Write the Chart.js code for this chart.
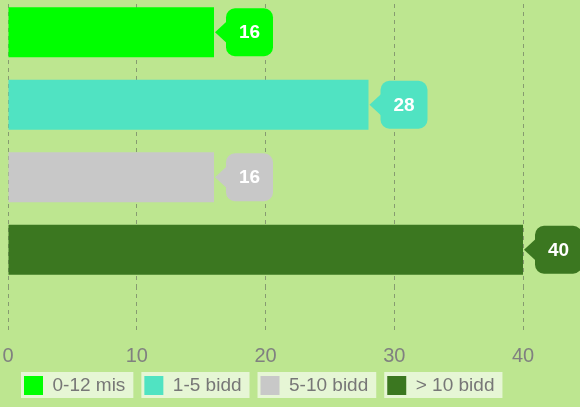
<!DOCTYPE html>
<html lang="en">
<head>
    <meta charset="UTF-8">
    <title>Bars by age</title>
    <script src="https://cdn.jsdelivr.net/npm/chart.js"></script>
    <style>
        html, body {
            margin: 0;
            padding: 0;
            width: 580px;
            height: 407px;
            overflow: hidden;
            background-color: #bde690;
        }
        .chart-box {
            position: absolute;
            left: 0;
            top: -4px;
            width: 580px;
            height: 418px;
        }
    </style>
</head>
<body>
    <div class="chart-box">
        <canvas id="barChart"></canvas>
    </div>
    <script>
        const categories = ['0-12 mis', '1-5 bidd', '5-10 bidd', '> 10 bidd'];
        const values = [16, 28, 16, 40];
        const barColors = ['#00ff00', '#50e3c2', '#c8c8c8', '#3b7720'];
        const xMin = 0;
        const xMax = 40;
        const xStep = 10;

        const fontFamily = '"Liberation Sans", Arial, Helvetica, sans-serif';

        // put the legend row where the original has it
        const legendPlacement = {
            id: 'legendPlacement',
            afterLayout(chart) {
                const legend = chart.legend;
                const dx = 5 - legend.left;
                const dy = 361 - legend.top;
                legend.left += dx;
                legend.right += dx;
                legend.top += dy;
                legend.bottom += dy;
            }
        };

        // light boxes behind each legend entry
        const legendBackground = {
            id: 'legendBackground',
            beforeDraw(chart) {
                const boxes = chart.legend && chart.legend.legendHitBoxes;
                if (!boxes) return;
                const ctx = chart.ctx;
                ctx.save();
                ctx.fillStyle = 'rgba(255, 255, 255, 0.62)';
                boxes.forEach(hb => {
                    ctx.fillRect(hb.left - 3, hb.top - 4, hb.width + 11, 26);
                });
                ctx.restore();
            }
        };

        // value callouts to the right of each bar
        const valueCallouts = {
            id: 'valueCallouts',
            afterDatasetsDraw(chart) {
                const ctx = chart.ctx;
                const meta = chart.getDatasetMeta(0);
                ctx.save();
                meta.data.forEach((bar, i) => {
                    const x = bar.x;
                    const y = bar.y;
                    const left = x + 12;
                    const top = y - 24;
                    ctx.fillStyle = barColors[i];
                    ctx.beginPath();
                    ctx.roundRect(left, top, 47, 48, 9);
                    ctx.fill();
                    ctx.beginPath();
                    ctx.moveTo(x + 1, y);
                    ctx.lineTo(left + 2, y - 12);
                    ctx.lineTo(left + 2, y + 12);
                    ctx.closePath();
                    ctx.fill();
                    ctx.fillStyle = '#ffffff';
                    ctx.font = 'bold 19px ' + fontFamily;
                    ctx.textAlign = 'center';
                    ctx.textBaseline = 'middle';
                    ctx.fillText(String(values[i]), left + 23.5, y + 1);
                });
                ctx.restore();
            }
        };

        const ctx = document.getElementById('barChart').getContext('2d');
        const barChart = new Chart(ctx, {
            type: 'bar',
            data: {
                labels: categories,
                datasets: [{
                    label: 'Antal',
                    data: values,
                    backgroundColor: barColors,
                    borderWidth: 0,
                    barPercentage: 0.69,
                    categoryPercentage: 1
                }]
            },
            options: {
                indexAxis: 'y',
                responsive: true,
                maintainAspectRatio: false,
                animation: false,
                layout: {
                    padding: { left: 8, right: 57, top: 0, bottom: 0 }
                },
                scales: {
                    x: {
                        min: xMin,
                        max: xMax,
                        ticks: {
                            stepSize: xStep,
                            padding: 12,
                            color: '#808080',
                            font: { size: 20, family: fontFamily }
                        },
                        grid: {
                            color: 'rgba(80, 80, 80, 0.5)',
                            tickColor: 'rgba(80, 80, 80, 0.5)',
                            borderDash: [4, 4],
                            tickBorderDash: [4, 4],
                            tickLength: 46
                        },
                        border: { display: false, dash: [4, 4] },
                        afterFit(scale) {
                            scale.paddingLeft = 0;
                            scale.paddingRight = 0;
                            scale.height = 80;
                        }
                    },
                    y: {
                        display: false
                    }
                },
                plugins: {
                    legend: {
                        position: 'bottom',
                        align: 'start',
                        labels: {
                            boxWidth: 19,
                            boxHeight: 19,
                            padding: 19,
                            color: '#777777',
                            font: { size: 19, family: fontFamily },
                            generateLabels() {
                                return categories.map((text, i) => ({
                                    text: text,
                                    fillStyle: barColors[i],
                                    strokeStyle: barColors[i],
                                    lineWidth: 0,
                                    hidden: false,
                                    index: i,
                                    fontColor: '#777777'
                                }));
                            }
                        }
                    },
                    tooltip: { enabled: false }
                }
            },
            plugins: [legendPlacement, legendBackground, valueCallouts]
        });
    </script>
</body>
</html>
